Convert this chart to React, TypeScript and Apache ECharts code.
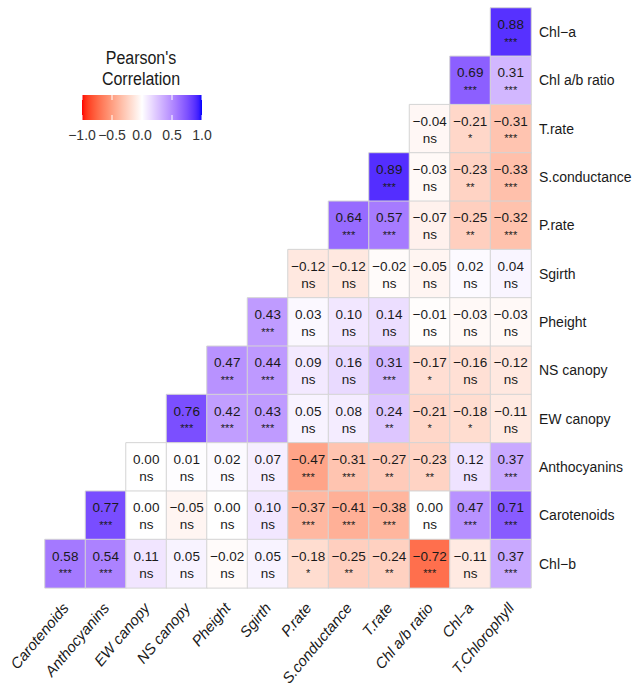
import React, { useEffect, useRef } from "react";
import * as echarts from "echarts";

const xCategories = [
  "Carotenoids", "Anthocyanins", "EW canopy", "NS canopy", "Pheight", "Sgirth",
  "P.rate", "S.conductance", "T.rate", "Chl a/b ratio", "Chl\u2212a", "T.Chlorophyll",
];
const yCategories = [
  "Chl\u2212a", "Chl a/b ratio", "T.rate", "S.conductance", "P.rate", "Sgirth",
  "Pheight", "NS canopy", "EW canopy", "Anthocyanins", "Carotenoids", "Chl\u2212b",
];
// Each row lists values for the rightmost columns (lower triangle), top row first
const corrRows: number[][] = [
  [0.88],
  [0.69, 0.31],
  [-0.04, -0.21, -0.31],
  [0.89, -0.03, -0.23, -0.33],
  [0.64, 0.57, -0.07, -0.25, -0.32],
  [-0.12, -0.12, -0.02, -0.05, 0.02, 0.04],
  [0.43, 0.03, 0.10, 0.14, -0.01, -0.03, -0.03],
  [0.47, 0.44, 0.09, 0.16, 0.31, -0.17, -0.16, -0.12],
  [0.76, 0.42, 0.43, 0.05, 0.08, 0.24, -0.21, -0.18, -0.11],
  [0.00, 0.01, 0.02, 0.07, -0.47, -0.31, -0.27, -0.23, 0.12, 0.37],
  [0.77, 0.00, -0.05, 0.00, 0.10, -0.37, -0.41, -0.38, 0.00, 0.47, 0.71],
  [0.58, 0.54, 0.11, 0.05, -0.02, 0.05, -0.18, -0.25, -0.24, -0.72, -0.11, 0.37],
];
const sigRows: string[][] = [
  ["***"],
  ["***", "***"],
  ["ns", "*", "***"],
  ["***", "ns", "**", "***"],
  ["***", "***", "ns", "**", "***"],
  ["ns", "ns", "ns", "ns", "ns", "ns"],
  ["***", "ns", "ns", "ns", "ns", "ns", "ns"],
  ["***", "***", "ns", "ns", "***", "*", "ns", "ns"],
  ["***", "***", "***", "ns", "ns", "**", "*", "*", "ns"],
  ["ns", "ns", "ns", "ns", "***", "***", "**", "**", "ns", "***"],
  ["***", "ns", "ns", "ns", "ns", "***", "***", "***", "ns", "***", "***"],
  ["***", "***", "ns", "ns", "ns", "ns", "*", "**", "**", "***", "ns", "***"],
];
const legendTicks = [-1.0, -0.5, 0.0, 0.5, 1.0];

// ---- Lab interpolation (like ggplot's scale_fill_gradient2) ----
function toLin(c: number) {
  c /= 255;
  return c <= 0.04045 ? c / 12.92 : Math.pow((c + 0.055) / 1.055, 2.4);
}
function fromLin(c: number) {
  const v = c <= 0.0031308 ? 12.92 * c : 1.055 * Math.pow(Math.max(c, 0), 1 / 2.4) - 0.055;
  return Math.round(Math.min(1, Math.max(0, v)) * 255);
}
const Xn = 0.95047, Yn = 1, Zn = 1.08883;
function rgbToLab(rgb: number[]) {
  const r = toLin(rgb[0]), g = toLin(rgb[1]), b = toLin(rgb[2]);
  const X = 0.4124 * r + 0.3576 * g + 0.1805 * b;
  const Y = 0.2126 * r + 0.7152 * g + 0.0722 * b;
  const Z = 0.0193 * r + 0.1192 * g + 0.9505 * b;
  const f = (t: number) => (t > 0.008856 ? Math.cbrt(t) : 7.787 * t + 16 / 116);
  const fx = f(X / Xn), fy = f(Y / Yn), fz = f(Z / Zn);
  return [116 * fy - 16, 500 * (fx - fy), 200 * (fy - fz)];
}
function labToRgb(lab: number[]) {
  const fy = (lab[0] + 16) / 116;
  const fx = fy + lab[1] / 500;
  const fz = fy - lab[2] / 200;
  const inv = (f: number) => (f * f * f > 0.008856 ? f * f * f : (f - 16 / 116) / 7.787);
  const X = inv(fx) * Xn, Y = inv(fy) * Yn, Z = inv(fz) * Zn;
  const r = 3.2406 * X - 1.5372 * Y - 0.4986 * Z;
  const g = -0.9689 * X + 1.8758 * Y + 0.0415 * Z;
  const b = 0.0557 * X - 0.204 * Y + 1.057 * Z;
  return `rgb(${fromLin(r)},${fromLin(g)},${fromLin(b)})`;
}
const LOW = rgbToLab([255, 0, 0]);
const MID = rgbToLab([255, 255, 255]);
const HIGH = rgbToLab([0, 0, 255]);
function colorAt(v: number) {
  const end = v < 0 ? LOW : HIGH;
  const t = Math.abs(v);
  return labToRgb([0, 1, 2].map((i) => MID[i] + (end[i] - MID[i]) * t));
}
const colorStops: string[] = [];
for (let i = 0; i <= 40; i++) colorStops.push(colorAt(-1 + i / 20));

const FONT = "'Liberation Sans', Arial, sans-serif";

export default function App() {
  const ref = useRef<HTMLDivElement>(null);
  useEffect(() => {
    document.body.style.margin = "0";
    if (!ref.current) return;
    const chart = echarts.init(ref.current, null, { renderer: "svg" });
    const n = xCategories.length;
    const data: any[] = [];
    corrRows.forEach((row, r) => {
      const start = n - row.length;
      row.forEach((v, k) => {
        data.push({ value: [start + k, r, v], sig: sigRows[r][k] });
      });
    });

    const barX = 82, barW = 120, barY = 95, barH = 25;
    const legendEls: any[] = [
      { type: "text", x: 141, y: 58, scaleY: 1.1, style: { text: "Pearson's", font: `16px ${FONT}`, fill: "#1a1a1a", align: "center", verticalAlign: "middle" } },
      { type: "text", x: 141, y: 79, scaleY: 1.1, style: { text: "Correlation", font: `16px ${FONT}`, fill: "#1a1a1a", align: "center", verticalAlign: "middle" } },
      {
        type: "rect",
        shape: { x: barX, y: barY, width: barW, height: barH },
        style: {
          fill: new echarts.graphic.LinearGradient(0, 0, 1, 0,
            colorStops.map((c, i) => ({ offset: i / (colorStops.length - 1), color: c }))),
        },
      },
    ];
    legendTicks.forEach((t) => {
      const x = barX + ((t + 1) / 2) * barW;
      legendEls.push({ type: "line", shape: { x1: x, y1: barY, x2: x, y2: barY + 5 }, style: { stroke: "#ffffff", lineWidth: 1 } });
      legendEls.push({ type: "line", shape: { x1: x, y1: barY + barH - 5, x2: x, y2: barY + barH }, style: { stroke: "#ffffff", lineWidth: 1 } });
      legendEls.push({
        type: "text", x, y: 135,
        style: { text: t.toFixed(1).replace("-", "\u2212"), font: `14px ${FONT}`, fill: "#333333", align: "center", verticalAlign: "middle" },
      });
    });

    chart.setOption({
      animation: false,
      backgroundColor: "#ffffff",
      grid: { left: 45, right: 107, top: 8, bottom: 92, containLabel: false },
      xAxis: {
        type: "category",
        data: xCategories,
        position: "bottom",
        axisLine: { show: false },
        axisTick: { show: false },
        splitLine: { show: false },
        axisLabel: { rotate: 50, fontSize: 15, fontStyle: "italic", color: "#1a1a1a", fontFamily: FONT, margin: 17, interval: 0 },
      },
      yAxis: {
        type: "category",
        data: yCategories,
        inverse: true,
        position: "right",
        axisLine: { show: false },
        axisTick: { show: false },
        splitLine: { show: false },
        axisLabel: { fontSize: 14, color: "#1a1a1a", fontFamily: FONT, margin: 8, interval: 0 },
      },
      visualMap: {
        show: false,
        type: "continuous",
        min: -1,
        max: 1,
        dimension: 2,
        inRange: { color: colorStops },
      },
      graphic: legendEls,
      series: [
        {
          type: "heatmap",
          data,
          itemStyle: { borderColor: "#d4d4d4", borderWidth: 1 },
          emphasis: { disabled: true },
          label: {
            show: true,
            fontFamily: FONT,
            offset: [0, 1],
            formatter: (p: any) => {
              const v = (p.value[2] as number).toFixed(2).replace("-", "\u2212");
              const s = p.data.sig;
              return `{v|${v}}\n{${s === "ns" ? "n" : "s"}|${s}}`;
            },
            rich: {
              v: { fontSize: 13.5, lineHeight: 17, color: "#1a1a1a", fontFamily: FONT },
              n: { fontSize: 13.5, lineHeight: 17, color: "#1a1a1a", fontFamily: FONT },
              s: { fontSize: 11, lineHeight: 17, color: "#1a1a1a", fontFamily: FONT },
            },
          },
        },
      ],
    });
    return () => chart.dispose();
  }, []);
  return <div ref={ref} style={{ width: 638, height: 688 }} />;
}
